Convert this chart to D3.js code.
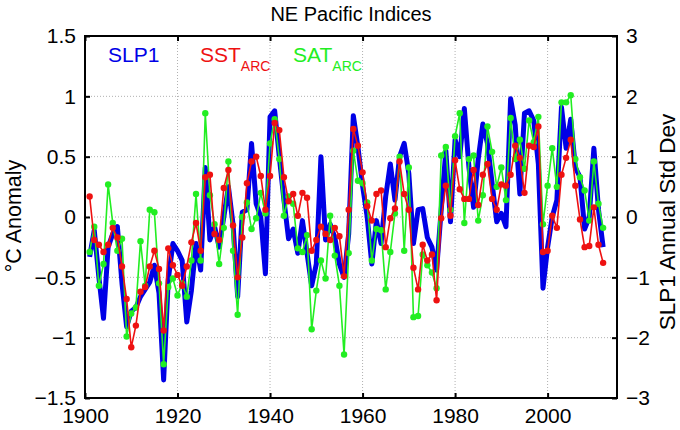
<!DOCTYPE html>
<html><head><meta charset="utf-8">
<script src="https://cdn.jsdelivr.net/npm/d3@7"></script>
<style>body{margin:0;background:#fff}svg{display:block}text{font-family:"Liberation Sans",Arial,sans-serif}</style>
</head><body><svg id="c" width="680" height="430"></svg>
<script>
const startYear = 1901;
const sstArc = [0.17,-0.19,-0.23,-0.29,-0.23,-0.09,-0.17,-0.41,-0.68,-1.08,
-0.90,-0.62,-0.58,-0.41,-0.28,-0.43,-0.94,-0.26,-0.40,-0.48,
-0.57,-0.41,-0.21,-0.05,-0.28,0.33,0.35,-0.14,-0.19,0.24,
0.39,-0.07,-0.50,-0.17,0.28,0.46,0.50,0.34,0.06,0.34,
0.78,0.72,0.33,0.13,0.19,0.01,0.20,0.16,-0.28,-0.19,
-0.08,-0.14,-0.19,-0.09,-0.16,-0.49,0.06,0.73,0.59,0.37,
0.09,-0.03,0.19,0.22,-0.25,-0.01,0.07,0.46,0.19,0.06,
-0.42,-0.60,-0.23,-0.36,-0.31,-0.69,-0.01,0.26,0.01,0.47,
0.23,0.15,0.15,0.39,0.10,0.35,0.44,0.15,0.06,0.27,
0.26,0.35,0.59,0.49,0.20,0.59,0.58,0.75,-0.29,-0.28,
0.01,-0.09,0.35,0.49,0.64,0.26,-0.02,-0.25,-0.24,0.08,
-0.23,-0.38];
const satArc = [-0.29,-0.08,-0.57,-0.39,0.27,-0.05,-0.28,-0.18,-0.99,-0.80,
-0.75,-0.20,-0.57,0.06,0.04,-0.55,-1.22,-0.58,-0.51,-0.65,
-0.55,-0.66,-0.36,0.19,-0.36,0.86,0.18,-0.06,-0.39,-0.09,
0.46,-0.28,-0.81,0.00,0.12,-0.10,-0.01,0.20,0.03,0.61,
0.81,0.48,0.01,0.17,0.11,-0.26,-0.29,-0.15,-0.93,-0.61,
-0.36,-0.51,0.01,-0.32,-0.57,-1.14,-0.30,0.55,0.30,0.28,
0.12,-0.36,-0.10,-0.11,-0.60,-0.29,0.03,0.50,-0.28,0.41,
-0.83,-0.82,-0.31,-0.40,-0.46,-0.59,0.51,0.58,0.06,0.67,
0.86,-0.05,0.48,0.51,-0.03,0.18,0.75,0.54,0.25,0.41,
0.14,0.82,0.48,0.64,0.40,0.80,0.62,0.83,-0.06,0.26,
0.57,0.25,0.95,0.95,1.01,0.48,0.33,0.22,-0.03,0.46,
0.11,-0.09];
const slp1 = [-0.66,-0.22,-1.0,-1.68,-0.5,-0.28,-0.16,-1.1,-1.82,-1.56,
-1.5,-1.32,-1.2,-1.08,-0.8,-1.26,-2.7,-1.04,-0.44,-0.56,
-0.72,-1.74,-1.22,-0.44,-0.88,0.82,-0.38,-0.16,-0.5,0.0,
0.5,-0.12,-1.32,0.08,0.12,1.22,0.22,0.0,-0.94,1.66,
1.76,1.0,0.28,-0.36,-0.2,-0.6,-0.06,-0.6,-1.14,-0.78,
1.0,-0.38,-0.12,-0.34,-0.78,-1.0,-0.28,1.68,1.16,0.52,
0.0,-0.78,-0.06,-0.44,0.34,0.88,0.28,1.0,1.22,0.72,
-0.44,0.12,0.14,-0.34,-0.5,-0.88,0.12,1.1,-0.08,1.28,
1.0,1.8,0.82,0.16,0.96,1.54,1.22,0.56,-0.08,0.06,
-0.16,1.96,1.52,0.38,1.72,1.76,1.6,0.88,-1.18,-0.5,
0.0,0.28,1.82,1.14,1.62,0.82,0.66,-0.2,0.0,1.14,
0.12,-0.5];
const xTicks = [1900,1920,1940,1960,1980,2000];
const leftTicks = [-1.5,-1,-0.5,0,0.5,1,1.5];
const rightTicks = [-3,-2,-1,0,1,2,3];

const svg = d3.select("#c");
const L=85,R=617,T=36,B=398;
const x = d3.scaleLinear().domain([1900,2015]).range([L,R]);
const yL = d3.scaleLinear().domain([-1.5,1.5]).range([B,T]);
const yR = d3.scaleLinear().domain([-3,3]).range([B,T]);

// gridlines
const g = svg.append("g");
g.selectAll(".gx").data(xTicks.slice(1)).enter().append("line")
 .attr("x1",d=>x(d)).attr("x2",d=>x(d)).attr("y1",T).attr("y2",B)
 .attr("stroke","#b0b0b0").attr("stroke-width",1).attr("stroke-dasharray","1,2");
g.selectAll(".gy").data(leftTicks.slice(1,-1)).enter().append("line")
 .attr("x1",L).attr("x2",R).attr("y1",d=>yL(d)).attr("y2",d=>yL(d))
 .attr("stroke","#b0b0b0").attr("stroke-width",1).attr("stroke-dasharray","1,2");

const lineL = d3.line().x((d,i)=>x(startYear+i)).y(d=>yL(d));
const lineR = d3.line().x((d,i)=>x(startYear+i)).y(d=>yR(d));

svg.append("path").datum(slp1).attr("d",lineR).attr("fill","none")
 .attr("stroke","#0000e6").attr("stroke-width",5).attr("stroke-linejoin","round");

function dotted(data,color){
  svg.append("path").datum(data).attr("d",lineL).attr("fill","none")
   .attr("stroke",color).attr("stroke-width",1.6);
  svg.append("g").selectAll("circle").data(data).enter().append("circle")
   .attr("cx",(d,i)=>x(startYear+i)).attr("cy",d=>yL(d)).attr("r",3.2).attr("fill",color);
}
dotted(satArc,"#22ee22");
dotted(sstArc,"#ee1111");

// frame
svg.append("rect").attr("x",L).attr("y",T).attr("width",R-L).attr("height",B-T)
 .attr("fill","none").attr("stroke","#000").attr("stroke-width",2);

// axes with inward ticks
const axL = d3.axisLeft(yL).tickValues(leftTicks).tickSize(-5).tickPadding(9).tickFormat(d3.format("~g"));
const axR = d3.axisRight(yR).tickValues(rightTicks).tickSize(-5).tickPadding(9).tickFormat(d3.format("~g"));
const axB = d3.axisBottom(x).tickValues(xTicks).tickSize(-5).tickPadding(10).tickFormat(d3.format("d"));
const axT = d3.axisTop(x).tickValues(xTicks).tickSize(-5).tickFormat("");
function style(sel){
  sel.select(".domain").remove();
  sel.selectAll(".tick line").attr("stroke","#000").attr("stroke-width",2);
  sel.selectAll("text").attr("font-size",21).attr("fill","#000")
   .style("font-family",'"Liberation Sans",Arial,sans-serif');
}
svg.append("g").attr("transform",`translate(${L},0)`).call(axL).call(style);
svg.append("g").attr("transform",`translate(${R},0)`).call(axR).call(style);
svg.append("g").attr("transform",`translate(0,${B})`).call(axB).call(style);
svg.append("g").attr("transform",`translate(0,${T})`).call(axT).call(style);

// title & labels
svg.append("text").attr("x",(L+R)/2).attr("y",21).attr("text-anchor","middle")
 .attr("font-size",20).text("NE Pacific Indices");
svg.append("text").attr("transform","translate(21,216) rotate(-90)").attr("text-anchor","middle")
 .attr("font-size",21.5).text("°C Anomaly");
svg.append("text").attr("transform","translate(675,222) rotate(-90)").attr("text-anchor","middle")
 .attr("font-size",22.5).text("SLP1 Annual Std Dev");

// legend
const lg = svg.append("g").attr("font-size",21);
lg.append("text").attr("x",108).attr("y",62).attr("fill","#0000e6").text("SLP1");
const t1 = lg.append("text").attr("x",200).attr("y",62).attr("fill","#ee1111");
t1.append("tspan").text("SST");
t1.append("tspan").attr("dy",9).attr("font-size",14).text("ARC");
const t2 = lg.append("text").attr("x",293).attr("y",62).attr("fill","#22ee22");
t2.append("tspan").text("SAT");
t2.append("tspan").attr("dy",9).attr("font-size",14).text("ARC");
</script></body></html>
